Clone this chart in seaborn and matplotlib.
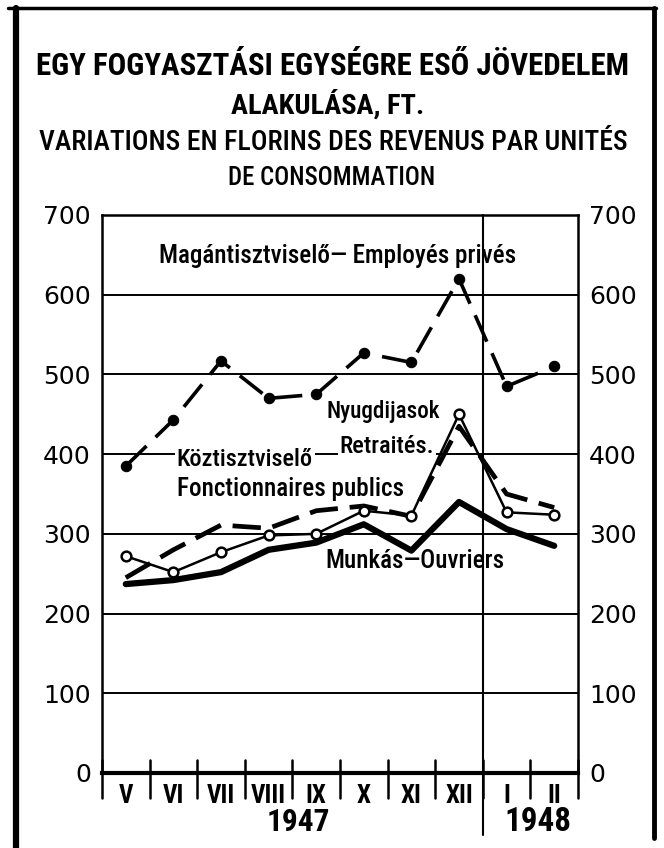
import matplotlib
matplotlib.use('Agg')
import seaborn as sns
import matplotlib.pyplot as plt
from matplotlib import font_manager
from matplotlib.lines import Line2D

# data (forint per consumption unit)
months = ['V', 'VI', 'VII', 'VIII', 'IX', 'X', 'XI', 'XII', 'I', 'II']
private_empl = [385, 443, 517, 470, 475, 527, 515, 620, 485, 510]
public_empl = [245, 280, 311, 307, 329, 335, 322, 435, 350, 333]
pensioners = [272, 252, 277, 298, 300, 329, 323, 450, 327, 324]
workers = [237, 242, 252, 280, 289, 312, 279, 340, 306, 285]
yticks = [0, 100, 200, 300, 400, 500, 600, 700]

sns.set_style('white')
plt.rcParams['font.family'] = ['DejaVu Sans']
plt.rcParams['text.color'] = 'black'
plt.rcParams['xtick.color'] = 'black'
plt.rcParams['ytick.color'] = 'black'

# narrow face for the lettering, if one is installed
names = {f.name for f in font_manager.fontManager.ttflist}
COND = next((n for n in ['Liberation Sans Narrow', 'DejaVu Sans Condensed',
                         'Roboto Condensed'] if n in names), 'Roboto')

W, H = 664, 848
fig = plt.figure(figsize=(W / 100, H / 100), dpi=100)
ax = fig.add_axes([102 / W, 1 - 773 / H, 476 / W, 558 / H])
x = list(range(len(months)))

# series
sns.lineplot(x=x, y=private_empl, ax=ax, color='black', lw=2.6, marker='o',
             markersize=7.5, markeredgecolor='black', dashes=(8, 3.5), zorder=4)
sns.lineplot(x=x, y=public_empl, ax=ax, color='black', lw=3.4,
             dashes=(6, 2.5), zorder=4)
sns.lineplot(x=x, y=pensioners, ax=ax, color='black', lw=1.8, marker='o',
             markersize=7, markerfacecolor='white', markeredgecolor='black',
             markeredgewidth=1.8, zorder=5)
sns.lineplot(x=x, y=workers, ax=ax, color='black', lw=4.5, zorder=4)

ax.set_xlim(-0.5, len(months) - 0.5)
ax.set_ylim(0, 700)
ax.set_yticks(yticks)
ax.set_yticklabels([str(v) for v in yticks])
ax.set_xticks(x)
ax.set_xticklabels(months, fontweight='bold', family=COND, fontsize=18)
ax.tick_params(axis='x', length=0, pad=8)
ax.tick_params(axis='y', length=0, labelsize=18, pad=8, right=True, labelright=True)
ax.yaxis.grid(True, color='black', lw=1.4, zorder=1)
ax.xaxis.grid(False)
for side in ['left', 'right', 'top']:
    ax.spines[side].set_color('black')
    ax.spines[side].set_linewidth(1.8)
ax.spines['bottom'].set_color('black')
ax.spines['bottom'].set_linewidth(3)

# month separators below the axis, year divider through the plot
for b in [i - 0.5 for i in range(len(months) + 1)]:
    ax.plot([b, b], [16, -31], color='black', lw=1.8, clip_on=False, zorder=3)
ax.plot([7.5, 7.5], [700, -78], color='black', lw=1.5, clip_on=False, zorder=2)

texts = []  # (text object, target width in px)
texts.append((ax.text(3.62, -62, '1947', ha='center', va='center', fontsize=21,
                      fontweight='bold', family=COND), 64))
texts.append((ax.text(8.66, -62, '1948', ha='center', va='center', fontsize=21,
                      fontweight='bold', family=COND), 67))

# series labels
lab = dict(fontsize=15, family=COND, fontweight='medium', ha='center',
           va='center', zorder=3)
box = dict(facecolor='white', edgecolor='none', pad=1)
texts.append((ax.text(4.44, 648, 'Magántisztviselő— Employés privés', **lab), 358))
texts.append((ax.text(5.40, 454, 'Nyugdijasok', **lab), 114))
texts.append((ax.text(5.48, 410, 'Retraités.', bbox=box, **lab), 95))
texts.append((ax.text(2.50, 393, 'Köztisztviselő', bbox=box, **lab), 137))
texts.append((ax.text(3.47, 356, 'Fonctionnaires publics', **lab), 228))
texts.append((ax.text(6.08, 266, 'Munkás—Ouvriers', **lab), 179))

# titles
texts.append((fig.text(332 / W, 1 - 66 / H, 'EGY FOGYASZTÁSI EGYSÉGRE ESŐ JÖVEDELEM',
                       ha='center', va='center', fontsize=21, fontweight='bold',
                       family=COND), 593))
texts.append((fig.text(328 / W, 1 - 104 / H, 'ALAKULÁSA, FT.', ha='center',
                       va='center', fontsize=21, fontweight='bold', family=COND), 192))
texts.append((fig.text(333 / W, 1 - 143 / H,
                       'VARIATIONS EN FLORINS DES REVENUS PAR UNITÉS',
                       ha='center', va='center', fontsize=19, fontweight='medium',
                       family=COND), 590))
texts.append((fig.text(332 / W, 1 - 178 / H, 'DE CONSOMMATION', ha='center',
                       va='center', fontsize=19, fontweight='medium',
                       family=COND), 207))

# scale each label so its width matches the scan
renderer = fig.canvas.get_renderer()
for t, target in texts:
    w = t.get_window_extent(renderer).width
    t.set_fontsize(t.get_fontsize() * target / w)

# outer frame
def frame(xs, ys, lw):
    fig.add_artist(Line2D([v / W for v in xs], [1 - v / H for v in ys],
                          color='black', lw=lw, transform=fig.transFigure))

frame([8, 656], [8, 8], 2.5)
frame([16, 16], [8, 848], 4.5)
frame([654, 654], [8, 838], 3.5)

fig.savefig('out.png', dpi=100)
